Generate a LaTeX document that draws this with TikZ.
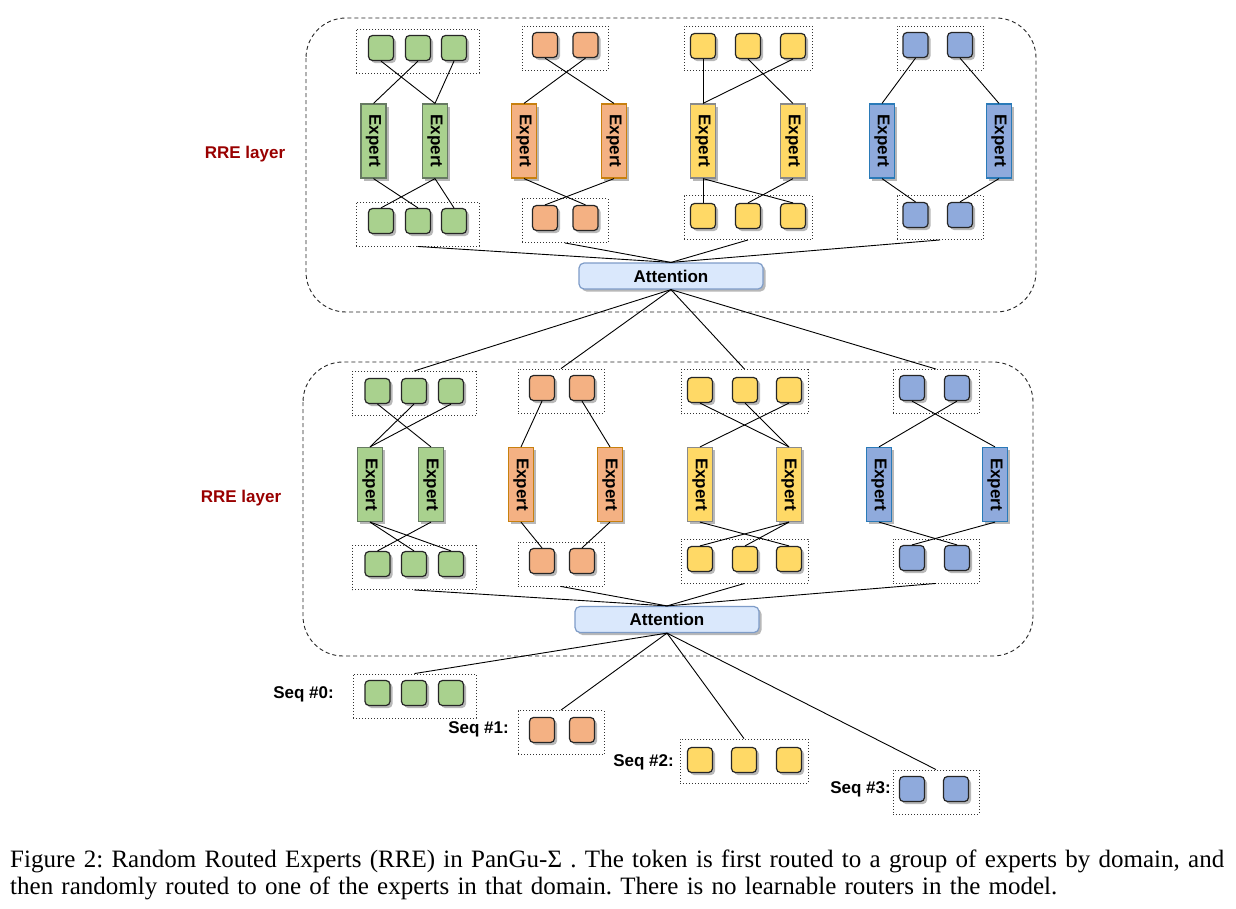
\documentclass[tikz,border=0pt]{standalone}
\usepackage{fontspec}
\setmainfont{Liberation Serif}
\setsansfont{Liberation Sans}
\usetikzlibrary{shadows}
\definecolor{gfill}{HTML}{A9D18E}
\definecolor{gdraw}{HTML}{667A62}
\definecolor{ofill}{HTML}{F4B183}
\definecolor{odraw}{HTML}{C8800E}
\definecolor{yfill}{HTML}{FFD966}
\definecolor{ydraw}{HTML}{8A8A8A}
\definecolor{bfill}{HTML}{8FAADC}
\definecolor{bdraw}{HTML}{2A7AB8}
\definecolor{attf}{HTML}{DAE8FC}
\definecolor{attd}{HTML}{7E9CC8}
\definecolor{rrecol}{HTML}{990000}
\newcommand\explbl{\sffamily\bfseries\fontsize{17}{20}\selectfont}
\frenchspacing
\begin{document}
\begin{tikzpicture}[x=1pt,y=-1pt,
  shd/.style={drop shadow={shadow xshift=2.5pt,shadow yshift=-2.5pt,fill=black!28,opacity=1}},
  sq/.style={draw=black!85,fill=#1,rounded corners=4pt,minimum size=25pt,inner sep=0pt,line width=1.2pt,shd},
  expert/.style 2 args={draw=#2,fill=#1,minimum width=25pt,minimum height=74pt,inner sep=0pt,line width=1.2pt,shd,
     label={[rotate=-90,font=\explbl,inner sep=0pt,text=black]center:Expert}},
  dbox/.style={draw=black!80,dash pattern=on 1pt off 2pt,line width=0.9pt,inner sep=0pt,minimum height=44pt,minimum width=#1},
  outer/.style={draw=black!85,dash pattern=on 4pt off 3pt,line width=0.9pt,rounded corners=40pt},
  conn/.style={draw=black,line width=0.9pt},
  att/.style={draw=attd,fill=attf,rounded corners=5pt,minimum width=184pt,minimum height=26pt,inner sep=0pt,line width=1.2pt,shd,font=\explbl},
  rre/.style={font=\explbl,text=rrecol,inner sep=0pt},
  seqlbl/.style={font=\explbl,inner sep=0pt,anchor=east},
  captxt/.style={anchor=base west,inner sep=0pt,font=\fontsize{25}{29}\selectfont}
]
\useasboundingbox (0,0) rectangle (1236,908);
\fill[white] (0,0) rectangle (1236,908);

% ---------- outer layers ----------
\draw[outer] (306,18) rectangle (1036,312);
\draw[outer] (303,362) rectangle (1033,656);
\node[rre] (rreA) at (245,154) {RRE layer};
\node[rre] (rreB) at (241,498) {RRE layer};

% ================= Layer A =================
% green
\node[dbox=123pt] (AgT) at (417.5,51) {};
\foreach \i/\xx in {1/381,2/418,3/454} \node[sq=gfill] (Agt\i) at (\xx,48) {};
\node[expert={gfill}{gdraw}] (AgE1) at (373.5,141) {};
\node[expert={gfill}{gdraw}] (AgE2) at (435,141) {};
\node[dbox=123pt] (AgB) at (417.5,224) {};
\foreach \i/\xx in {1/381,2/418,3/454} \node[sq=gfill] (Agb\i) at (\xx,221) {};
% orange
\node[dbox=86pt] (AoT) at (565,48) {};
\foreach \i/\xx in {1/545,2/585.5} \node[sq=ofill] (Aot\i) at (\xx,45) {};
\node[expert={ofill}{odraw}] (AoE1) at (524,141) {};
\node[expert={ofill}{odraw}] (AoE2) at (614,141) {};
\node[dbox=86pt] (AoB) at (565,220.5) {};
\foreach \i/\xx in {1/545,2/585.5} \node[sq=ofill] (Aob\i) at (\xx,218) {};
% yellow
\node[dbox=128pt] (AyT) at (748,48) {};
\foreach \i/\xx in {1/703,2/748,3/793} \node[sq=yfill] (Ayt\i) at (\xx,46) {};
\node[expert={yfill}{ydraw}] (AyE1) at (703,141) {};
\node[expert={yfill}{ydraw}] (AyE2) at (793,141) {};
\node[dbox=128pt] (AyB) at (748,217.5) {};
\foreach \i/\xx in {1/703,2/748,3/793} \node[sq=yfill] (Ayb\i) at (\xx,216) {};
% blue
\node[dbox=86pt] (AbT) at (940,48) {};
\foreach \i/\xx in {1/915.5,2/960} \node[sq=bfill] (Abt\i) at (\xx,45) {};
\node[expert={bfill}{bdraw}] (AbE1) at (882,141) {};
\node[expert={bfill}{bdraw}] (AbE2) at (999,141) {};
\node[dbox=86pt] (AbB) at (940,217.5) {};
\foreach \i/\xx in {1/915.5,2/960} \node[sq=bfill] (Abb\i) at (\xx,215) {};
% attention
\node[att] (Aatt) at (671,276) {Attention};

% ================= Layer B =================
% green
\node[dbox=124pt] (BgT) at (414,393.5) {};
\foreach \i/\xx in {1/377.5,2/414,3/451} \node[sq=gfill] (Bgt\i) at (\xx,391) {};
\node[expert={gfill}{gdraw}] (BgE1) at (370,484.5) {};
\node[expert={gfill}{gdraw}] (BgE2) at (431,484.5) {};
\node[dbox=124pt] (BgB) at (414,567.5) {};
\foreach \i/\xx in {1/377.5,2/414,3/451} \node[sq=gfill] (Bgb\i) at (\xx,564) {};
% orange
\node[dbox=86pt] (BoT) at (561,391) {};
\foreach \i/\xx in {1/542,2/582} \node[sq=ofill] (Bot\i) at (\xx,388) {};
\node[expert={ofill}{odraw}] (BoE1) at (521,484.5) {};
\node[expert={ofill}{odraw}] (BoE2) at (610,484.5) {};
\node[dbox=86pt] (BoB) at (561,564) {};
\foreach \i/\xx in {1/542,2/582} \node[sq=ofill] (Bob\i) at (\xx,561) {};
% yellow
\node[dbox=127pt] (ByT) at (744.5,391.5) {};
\foreach \i/\xx in {1/700,2/745,3/789} \node[sq=yfill] (Byt\i) at (\xx,390) {};
\node[expert={yfill}{ydraw}] (ByE1) at (700,484.5) {};
\node[expert={yfill}{ydraw}] (ByE2) at (789,484.5) {};
\node[dbox=127pt] (ByB) at (744.5,561) {};
\foreach \i/\xx in {1/700,2/745,3/789} \node[sq=yfill] (Byb\i) at (\xx,559) {};
% blue
\node[dbox=86pt] (BbT) at (936,391.5) {};
\foreach \i/\xx in {1/912,2/957} \node[sq=bfill] (Bbt\i) at (\xx,388) {};
\node[expert={bfill}{bdraw}] (BbE1) at (879,484.5) {};
\node[expert={bfill}{bdraw}] (BbE2) at (995,484.5) {};
\node[dbox=86pt] (BbB) at (936,561) {};
\foreach \i/\xx in {1/912,2/957} \node[sq=bfill] (Bbb\i) at (\xx,558) {};
% attention
\node[att] (Batt) at (667,619.5) {Attention};

% ================= Sequences =================
\node[dbox=123pt] (S0) at (414.5,696) {};
\foreach \i/\xx in {1/377.5,2/414,3/451} \node[sq=gfill] (S0s\i) at (\xx,693) {};
\node[seqlbl] (L0) at (334,694) {Seq \#0:};
\node[dbox=86pt] (S1) at (561,732.5) {};
\foreach \i/\xx in {1/542,2/582} \node[sq=ofill] (S1s\i) at (\xx,730) {};
\node[seqlbl] (L1) at (509,729) {Seq \#1:};
\node[dbox=128pt] (S2) at (744,761) {};
\foreach \i/\xx in {1/700,2/744,3/789} \node[sq=yfill] (S2s\i) at (\xx,760) {};
\node[seqlbl] (L2) at (674,762) {Seq \#2:};
\node[dbox=86pt] (S3) at (936,792) {};
\foreach \i/\xx in {1/912,2/956} \node[sq=bfill] (S3s\i) at (\xx,789) {};
\node[seqlbl] (L3) at (891,789) {Seq \#3:};

% ================= connectors =================
% Layer A experts
\draw[conn] (Agt1.south) -- (AgE2.north);
\draw[conn] (Agt2.south) -- (AgE1.north);
\draw[conn] (Agt3.south) -- (AgE2.north);
\draw[conn] (AgE1.south) -- (Agb2.north);
\draw[conn] (AgE2.south) -- (Agb1.north);
\draw[conn] (AgE2.south) -- (Agb3.north);
\draw[conn] (Aot1.south) -- (AoE2.north);
\draw[conn] (Aot2.south) -- (AoE1.north);
\draw[conn] (AoE1.south) -- (Aob2.north);
\draw[conn] (AoE2.south) -- (Aob1.north);
\draw[conn] (Ayt1.south) -- (AyE1.north);
\draw[conn] (Ayt2.south) -- (AyE2.north);
\draw[conn] (Ayt3.south) -- (AyE1.north);
\draw[conn] (AyE1.south) -- (Ayb1.north);
\draw[conn] (AyE1.south) -- (Ayb3.north);
\draw[conn] (AyE2.south) -- (Ayb2.north);
\draw[conn] (Abt1.south) -- (AbE1.north);
\draw[conn] (Abt2.south) -- (AbE2.north);
\draw[conn] (AbE1.south) -- (Abb1.north);
\draw[conn] (AbE2.south) -- (Abb2.north);
\foreach \g in {AgB,AoB,AyB,AbB} \draw[conn] (\g.south) -- (Aatt.north);
% A attention to layer B
\foreach \g in {BgT,BoT,ByT,BbT} \draw[conn] (Aatt.south) -- (\g.north);
% Layer B experts
\draw[conn] (Bgt1.south) -- (BgE2.north);
\draw[conn] (Bgt2.south) -- (BgE1.north);
\draw[conn] (Bgt3.south) -- (BgE1.north);
\draw[conn] (BgE1.south) -- (Bgb2.north);
\draw[conn] (BgE1.south) -- (Bgb3.north);
\draw[conn] (BgE2.south) -- (Bgb1.north);
\draw[conn] (Bot1.south) -- (BoE1.north);
\draw[conn] (Bot2.south) -- (BoE2.north);
\draw[conn] (BoE1.south) -- (Bob1.north);
\draw[conn] (BoE2.south) -- (Bob2.north);
\draw[conn] (Byt1.south) -- (ByE2.north);
\draw[conn] (Byt2.south) -- (ByE2.north);
\draw[conn] (Byt3.south) -- (ByE1.north);
\draw[conn] (ByE1.south) -- (Byb3.north);
\draw[conn] (ByE2.south) -- (Byb1.north);
\draw[conn] (ByE2.south) -- (Byb2.north);
\draw[conn] (Bbt1.south) -- (BbE2.north);
\draw[conn] (Bbt2.south) -- (BbE1.north);
\draw[conn] (BbE1.south) -- (Bbb2.north);
\draw[conn] (BbE2.south) -- (Bbb1.north);
\foreach \g in {BgB,BoB,ByB,BbB} \draw[conn] (\g.south) -- (Batt.north);
% B attention to sequences
\foreach \g in {S0,S1,S2,S3} \draw[conn] (Batt.south) -- (\g.north);

% ================= caption =================
\node[captxt] (cap1) at (10,867)
  {\makebox[1214pt][s]{Figure 2: Random Routed Experts (RRE) in PanGu-Σ . The token is first routed to a group of experts by domain, and}};
\node[captxt] (cap2) at (10,894)
  {\makebox[1047pt][s]{then randomly routed to one of the experts in that domain. There is no learnable routers in the model.}};
\end{tikzpicture}
\end{document}
